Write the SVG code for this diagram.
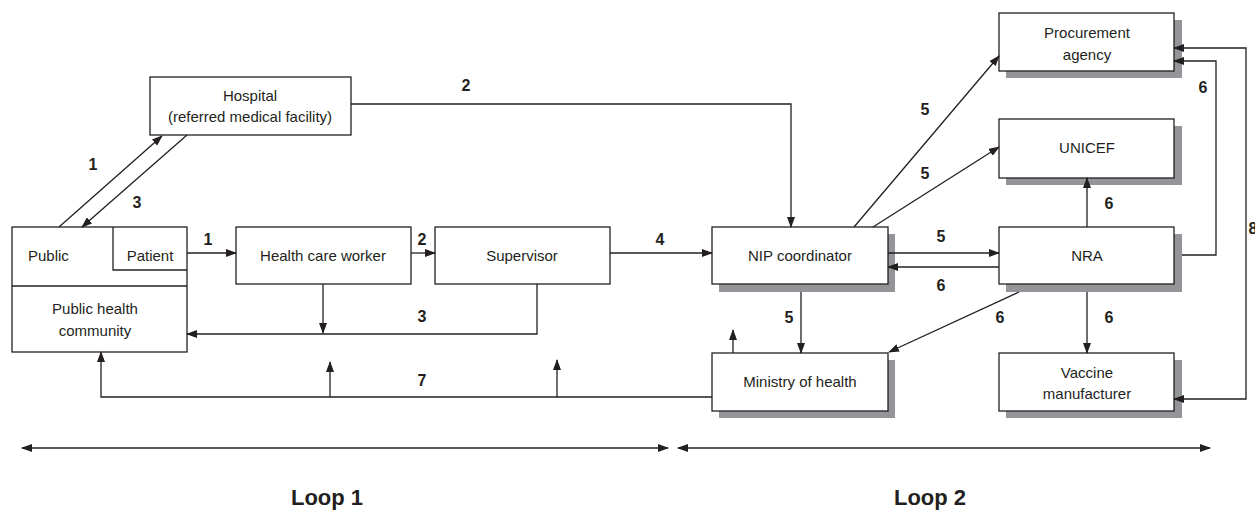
<svg xmlns="http://www.w3.org/2000/svg" width="1255" height="513" viewBox="0 0 1255 513">
<style>
.box{fill:#fff;stroke:#231f20;stroke-width:1.3}
.sh{fill:#939598}
.t{font-family:"Liberation Sans",Arial,sans-serif;font-size:15px;fill:#231f20;text-anchor:middle}
.n{font-family:"Liberation Sans",Arial,sans-serif;font-size:16px;font-weight:bold;fill:#231f20;text-anchor:middle}
.lp{font-family:"Liberation Sans",Arial,sans-serif;font-size:22px;font-weight:bold;fill:#231f20;text-anchor:middle}
.c{fill:none;stroke:#231f20;stroke-width:1.3}
.a{marker-end:url(#ah)}
.b{marker-start:url(#ah);marker-end:url(#ah)}
</style>
<defs>
<marker id="ah" markerUnits="userSpaceOnUse" markerWidth="11" markerHeight="8" refX="10" refY="4" orient="auto-start-reverse">
<path d="M0,0 L11,4 L0,8 z" fill="#231f20"/>
</marker>
</defs>
<rect width="1255" height="513" fill="#fff"/>
<g id="hospital">
<rect class="box" x="150" y="77" width="201" height="58"/>
<text class="t" x="250" y="101">Hospital</text>
<text class="t" x="250" y="122">(referred medical facility)</text>
</g>
<g id="public">
<rect class="box" x="12" y="227" width="175" height="125"/>
<path class="c" d="M12,286 H187 M113,227 V270 H187"/>
<text class="t" x="28" y="261" style="text-anchor:start">Public</text>
<text class="t" x="150" y="261">Patient</text>
<text class="t" x="95" y="314">Public health</text>
<text class="t" x="95" y="336">community</text>
</g>
<g id="hcw">
<rect class="box" x="236" y="227" width="175" height="57"/>
<text class="t" x="323" y="261">Health care worker</text>
</g>
<g id="supervisor">
<rect class="box" x="435" y="227" width="175" height="57"/>
<text class="t" x="522" y="261">Supervisor</text>
</g>
<g id="nip">
<rect class="sh" x="719" y="234" width="176" height="58"/>
<rect class="box" x="712" y="227" width="176" height="57"/>
<text class="t" x="800" y="261">NIP coordinator</text>
</g>
<g id="ministry">
<rect class="sh" x="719" y="360" width="176" height="58"/>
<rect class="box" x="712" y="353" width="176" height="58"/>
<text class="t" x="800" y="387">Ministry of health</text>
</g>
<g id="procurement">
<rect class="sh" x="1006" y="20" width="176" height="58"/>
<rect class="box" x="999" y="13" width="175" height="58"/>
<text class="t" x="1087" y="38">Procurement</text>
<text class="t" x="1087" y="60">agency</text>
</g>
<g id="unicef">
<rect class="sh" x="1006" y="126" width="176" height="59"/>
<rect class="box" x="999" y="119" width="175" height="59"/>
<text class="t" x="1087" y="153">UNICEF</text>
</g>
<g id="nra">
<rect class="sh" x="1006" y="234" width="176" height="58"/>
<rect class="box" x="999" y="227" width="175" height="57"/>
<text class="t" x="1087" y="261">NRA</text>
</g>
<g id="vaccine">
<rect class="sh" x="1006" y="360" width="176" height="58"/>
<rect class="box" x="999" y="353" width="175" height="58"/>
<text class="t" x="1087" y="378">Vaccine</text>
<text class="t" x="1087" y="399">manufacturer</text>
</g>
<g id="connectors">
<path class="c a" d="M187,253 H236"/>
<path class="c a" d="M411,253 H435"/>
<path class="c a" d="M610,253 H712"/>
<path class="c a" d="M351,104 H791 V227"/>
<path class="c a" d="M59,227 L162,136"/>
<path class="c a" d="M187,135 L82,227"/>
<path class="c a" d="M323,284 V333"/>
<path class="c a" d="M537,284 V334 H187"/>
<path class="c a" d="M712,397 H101 V352"/>
<path class="c a" d="M330,397 V362"/>
<path class="c a" d="M557,397 V360"/>
<path class="c a" d="M733,353 V330"/>
<path class="c a" d="M888,253 H999"/>
<path class="c a" d="M999,267 H888"/>
<path class="c a" d="M854,227 L999,56"/>
<path class="c a" d="M873,227 L999,147"/>
<path class="c a" d="M1087,227 V178"/>
<path class="c a" d="M1087,292 V353"/>
<path class="c a" d="M1019,292 L889,352"/>
<path class="c a" d="M801,292 V353"/>
<path class="c a" d="M1182,255 H1216 V61 H1174"/>
<path class="c b" d="M1174,48 H1246 V399 H1174"/>
<path class="c b" d="M22,448 H668"/>
<path class="c b" d="M678,448 H1210"/>
</g>
<g id="labels">
<text class="n" x="466" y="91">2</text>
<text class="n" x="93" y="170">1</text>
<text class="n" x="137" y="208">3</text>
<text class="n" x="208" y="245">1</text>
<text class="n" x="422" y="245">2</text>
<text class="n" x="660" y="245">4</text>
<text class="n" x="422" y="322">3</text>
<text class="n" x="422" y="386">7</text>
<text class="n" x="925" y="115">5</text>
<text class="n" x="925" y="179">5</text>
<text class="n" x="1203" y="93">6</text>
<text class="n" x="1109" y="209">6</text>
<text class="n" x="941" y="242">5</text>
<text class="n" x="941" y="291">6</text>
<text class="n" x="789" y="323">5</text>
<text class="n" x="1000" y="323">6</text>
<text class="n" x="1109" y="323">6</text>
<text class="n" x="1253" y="234">8</text>
<text class="lp" x="327" y="505">Loop 1</text>
<text class="lp" x="930" y="505">Loop 2</text>
</g>
</svg>
